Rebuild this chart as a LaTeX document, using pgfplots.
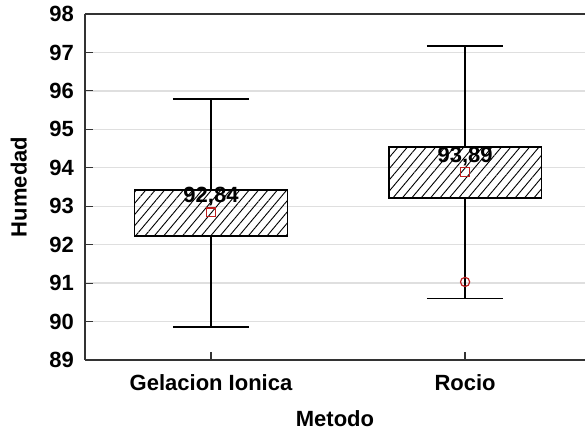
\documentclass[border=0pt]{standalone}
\usepackage{fontspec}
\setmainfont{Liberation Sans}
\usepackage{pgfplots}
\pgfplotsset{compat=1.18}
\usetikzlibrary{patterns.meta}
\definecolor{meanred}{RGB}{190,30,30}
\begin{document}
\begin{tikzpicture}
\begin{axis}[
  scale only axis, width=250pt, height=173pt,
  xmin=-0.496, xmax=1.472, ymin=89, ymax=98,
  axis lines=left,
  axis line style={-, draw=black!80, line width=0.8pt},
  xtick={0,1}, xticklabels={Gelacion Ionica, Rocio},
  ytick={89,90,...,98},
  tick align=inside,
  major tick length=4pt,
  tick style={draw=black!80, line width=0.6pt},
  ymajorgrids, grid style={draw=gray!25, line width=0.7pt},
  /pgf/number format/assume math mode=true,
  ticklabel style={font=\fontsize{11}{13}\selectfont\bfseries},
  label style={font=\fontsize{11}{13}\selectfont\bfseries},
  xlabel={Metodo}, ylabel={Humedad},
  xticklabel style={yshift=-4pt},
  yticklabel style={xshift=-2pt},
  xlabel style={yshift=-3pt},
  ylabel style={yshift=4.5pt},
  clip=false,
]
% boxes
\addplot[draw=black, line width=0.7pt, pattern={Lines[angle=50,distance=3.6pt,line width=0.45pt]}]
  coordinates {(-0.3,92.23) (0.3,92.23) (0.3,93.42) (-0.3,93.42)} -- cycle;
\addplot[draw=black, line width=0.7pt, pattern={Lines[angle=50,distance=3.6pt,line width=0.45pt]}]
  coordinates {(0.7,93.21) (1.3,93.21) (1.3,94.54) (0.7,94.54)} -- cycle;
% whiskers
\addplot[black, line width=0.6pt] coordinates {(0,93.42) (0,95.79)};
\addplot[black, line width=0.6pt] coordinates {(0,92.23) (0,89.86)};
\addplot[black, line width=0.6pt] coordinates {(-0.15,95.79) (0.15,95.79)};
\addplot[black, line width=0.6pt] coordinates {(-0.15,89.86) (0.15,89.86)};
\addplot[black, line width=0.6pt] coordinates {(1,94.54) (1,97.17)};
\addplot[black, line width=0.6pt] coordinates {(1,93.21) (1,90.59)};
\addplot[black, line width=0.6pt] coordinates {(0.85,97.17) (1.15,97.17)};
\addplot[black, line width=0.6pt] coordinates {(0.85,90.59) (1.15,90.59)};
% outlier
\addplot[only marks, mark=o, mark size=2.3pt, mark options={draw=meanred, line width=0.6pt}]
  coordinates {(1,91.03)};
% means
\addplot[only marks, mark=square, mark size=2.2pt,
  mark options={draw=meanred, line width=0.6pt},
  nodes near coords, point meta=explicit symbolic,
  every node near coord/.style={anchor=base, yshift=5pt, text=black,
    font=\fontsize{11}{13}\selectfont\bfseries}]
  coordinates {(0,92.84) [92,84] (1,93.89) [93,89]};
\draw[draw=black!80, line width=0.8pt] (rel axis cs:0,1) -- (rel axis cs:1,1);
\coordinate (bl) at (rel axis cs:0,0);
\coordinate (tr) at (rel axis cs:1,1);
\end{axis}
\pgfresetboundingbox
\path[use as bounding box] ([xshift=-42.5pt,yshift=-35.5pt]bl) rectangle ([yshift=7pt]tr);
\end{tikzpicture}
\end{document}
